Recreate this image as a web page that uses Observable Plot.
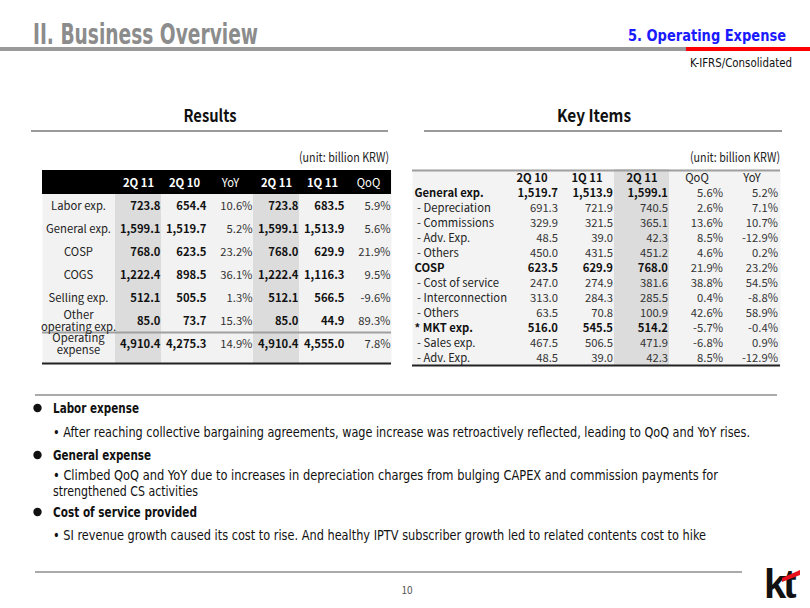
<!DOCTYPE html>
<html>
<head>
<meta charset="utf-8">
<script src="https://cdn.jsdelivr.net/npm/d3@7"></script>
<script src="https://cdn.jsdelivr.net/npm/@observablehq/plot@0.6"></script>
<style>
  html, body { margin: 0; padding: 0; background: #fff; }
  #slide { position: relative; width: 810px; height: 608px; overflow: hidden; background: #fff; }
  #slide > svg { position: absolute; left: 0; top: 0; }
</style>
</head>
<body>
<div id="slide"></div>
<script>
// ---------- data ----------
const resultsHeader = ["2Q 11", "2Q 10", "YoY", "2Q 11", "1Q 11", "QoQ"];
const resultsRows = ["Labor exp.", "General exp.", "COSP", "COGS", "Selling exp.", "Other\noperating exp.", "Operating\nexpense"];
const results2Q11 = [723.8, 1599.1, 768.0, 1222.4, 512.1, 85.0, 4910.4];
const results2Q10 = [654.4, 1519.7, 623.5, 898.5, 505.5, 73.7, 4275.3];
const resultsYoY  = [10.6, 5.2, 23.2, 36.1, 1.3, 15.3, 14.9];
const results1Q11 = [683.5, 1513.9, 629.9, 1116.3, 566.5, 44.9, 4555.0];
const resultsQoQ  = [5.9, 5.6, 21.9, 9.5, -9.6, 89.3, 7.8];

const keyHeader = ["2Q 10", "1Q 11", "2Q 11", "QoQ", "YoY"];
const keyRows = ["General exp.", "- Depreciation", "- Commissions", "- Adv. Exp.", "- Others", "COSP", "- Cost of service", "- Interconnection", "- Others", "* MKT exp.", "- Sales exp.", "- Adv. Exp."];
const key2Q10 = [1519.7, 691.3, 329.9, 48.5, 450.0, 623.5, 247.0, 313.0, 63.5, 516.0, 467.5, 48.5];
const key1Q11 = [1513.9, 721.9, 321.5, 39.0, 431.5, 629.9, 274.9, 284.3, 70.8, 545.5, 506.5, 39.0];
const key2Q11 = [1599.1, 740.5, 365.1, 42.3, 451.2, 768.0, 381.6, 285.5, 100.9, 514.2, 471.9, 42.3];
const keyQoQ  = [5.6, 2.6, 13.6, 8.5, 4.6, 21.9, 38.8, 0.4, 42.6, -5.7, -6.8, 8.5];
const keyYoY  = [5.2, 7.1, 10.7, -12.9, 0.2, 23.2, 54.5, -8.8, 58.9, -0.4, 0.9, -12.9];

// ---------- font helpers ----------
const ctx = document.createElement("canvas").getContext("2d");
function hasFont(name) {
  const s = "II. Business Overview 1,599.1 mmmwwwlliQ";
  return ["monospace", "serif"].every(fb => {
    ctx.font = `20px ${fb}`; const w0 = ctx.measureText(s).width;
    ctx.font = `20px "${name}", ${fb}`; return Math.abs(ctx.measureText(s).width - w0) > 0.01;
  });
}
const pick = list => list.find(hasFont) || "sans-serif";
const TFname = pick(["Noto Sans CJK KR", "Noto Sans CJK SC", "Open Sans", "Noto Sans", "Liberation Sans"]);
const NRname = pick(["Liberation Sans Narrow", "Arial Narrow", "DejaVu Sans Condensed", "Roboto Condensed", TFname]);
const TF = `"${TFname}", sans-serif`;
const NR = `"${NRname}", sans-serif`;
function measure(s, font, weight = "normal", size = 20) { ctx.font = `${weight} ${size}px ${font}`; return ctx.measureText(s).width; }
const sizeA = 20 * 90 / measure("- Interconnection", TF);
const sizeB = 20 * 41 / measure("1,599.1", TF, "bold");
const TS = Math.max(11, Math.min(13, sizeA, sizeB));

const fmtNum = d3.format(",.1f");
const fmtPct = v => v.toFixed(1) + "%";
const slide = document.getElementById("slide");

// ---------- static slide decoration ----------
const NS = "http://www.w3.org/2000/svg";
const deco = document.createElementNS(NS, "svg");
deco.setAttribute("width", 810); deco.setAttribute("height", 608);
function el(tag, attrs, text) {
  const e = document.createElementNS(NS, tag);
  for (const k in attrs) e.setAttribute(k, attrs[k]);
  if (text != null) e.textContent = text;
  deco.appendChild(e);
  return e;
}
// left-anchored (or centred) text; shrinks only if its natural width would pass the page edge
function txt(x, y, s, o) {
  const font = o.font || TF, weight = o.bold ? "bold" : "normal";
  let size = o.size;
  if (!o.anchor) size = Math.min(o.size, o.size * (804 - x) / measure(s, font, weight, o.size));
  const a = {x, y, "font-family": font, "font-size": size.toFixed(2), fill: o.fill || "#111", "font-weight": weight};
  if (o.anchor) a["text-anchor"] = o.anchor;
  if (o.len) { a.textLength = o.len; a.lengthAdjust = "spacingAndGlyphs"; }
  return el("text", a, s);
}
txt(33, 44, "II. Business Overview", {font: NR, size: 28, bold: true, fill: "#8c8c8c", len: 225});
el("rect", {x: 0, y: 47, width: 686, height: 4, fill: "#9a9a9a"});
el("rect", {x: 686, y: 47, width: 124, height: 4, fill: "#ff0000"});
txt(628, 41, "5. Operating Expense", {font: NR, size: 17, bold: true, fill: "#1a1aff", len: 158});
txt(690, 67, "K-IFRS/Consolidated", {font: NR, size: 13, len: 102});
txt(210, 122, "Results", {size: 17, bold: true, anchor: "middle", len: 53});
el("rect", {x: 31, y: 130, width: 357, height: 2, fill: "#9a9a9a"});
txt(594, 122, "Key Items", {size: 17, bold: true, anchor: "middle", len: 74});
el("rect", {x: 424, y: 130, width: 358, height: 2, fill: "#9a9a9a"});
txt(299, 162, "(unit: billion KRW)", {size: 13, fill: "#222", len: 90});
txt(690, 162, "(unit: billion KRW)", {size: 13, fill: "#222", len: 90});
el("rect", {x: 35, y: 394, width: 742, height: 2, fill: "#aaaaaa"});
const bullets = [
  ["h", 413, "Labor expense", 86],
  ["t", 437, "• After reaching collective bargaining agreements, wage increase was retroactively reflected, leading to QoQ and YoY rises.", 697],
  ["h", 460, "General expense", 98],
  ["t", 480, "• Climbed QoQ and YoY due to increases in depreciation charges from bulging CAPEX and commission payments for", 665],
  ["t", 496, "strengthened CS activities", 145],
  ["h", 517, "Cost of service provided", 144],
  ["t", 540, "• SI revenue growth caused its cost to rise. And healthy IPTV subscriber growth led to related contents cost to hike", 653]
];
for (const [k, y, s, len] of bullets) {
  if (k === "h") el("circle", {cx: 37.5, cy: y - 5, r: 4.2, fill: "#111"});
  txt(53, y, s, {font: NR, size: 14.5, bold: k === "h", len});
}
el("rect", {x: 35, y: 571, width: 707, height: 2, fill: "#aaaaaa"});
txt(407, 594, "10", {size: 10, anchor: "middle", fill: "#555"});
el("text", {x: 764, y: 598, "font-family": "'Liberation Sans', sans-serif", "font-size": 40, "font-weight": "bold", fill: "#111", "letter-spacing": -3}, "kt");
el("path", {d: "M782,578 L800,570 L800,575 L782,582 Z", fill: "#e8101c"});
slide.appendChild(deco);

// ---------- Results table ----------
const lRows = d3.range(resultsRows.length);
const lCols = [results2Q11, results2Q10, resultsYoY, results2Q11, results1Q11, resultsQoQ];
const lCells = [];
lCols.forEach((arr, c) => arr.forEach((v, r) => lCells.push({r, c, t: (c === 2 || c === 5) ? fmtPct(v) : fmtNum(v), bold: !(c === 2 || c === 5)})));
const lBw = (356 - 170.86) / 8;
const left = Plot.plot({
  width: 810, height: 380,
  marginLeft: 42, marginRight: 810 - 391, marginTop: 170, marginBottom: 380 - 364,
  style: {background: "transparent", fontFamily: TF, fontSize: TS + "px", color: "#111"},
  x: {type: "band", domain: d3.range(6), range: [115, 391], padding: 0, axis: null},
  y: {type: "band", domain: [-1, ...lRows], range: [170.86, 356], padding: 0, axis: null},
  marks: [
    Plot.frame({fill: "#f2f2f2", stroke: "none"}),
    Plot.cell([0, 3], {x: d => d, fill: "#dcdcdc"}),
    Plot.cell([-1], {y: d => d, fill: "#000", insetTop: -1}),
    Plot.ruleY([6], {y: d => d, dy: -lBw / 2, stroke: "#a0a0a0", strokeWidth: 2}),
    Plot.ruleY([6], {y: d => d, dy: lBw / 2 + 8, stroke: "#222", strokeWidth: 2}),
    Plot.text(resultsHeader.map((h, i) => ({h, i})).filter(d => d.i !== 2 && d.i !== 5), {x: "i", y: () => -1, text: "h", fill: "#fff", fontWeight: "bold", fontSize: TS}),
    Plot.text(resultsHeader.map((h, i) => ({h, i})).filter(d => d.i === 2 || d.i === 5), {x: "i", y: () => -1, text: "h", fill: "#fff", fontSize: TS}),
    Plot.text(resultsRows, {y: (d, i) => i, text: d => d, frameAnchor: "left", textAnchor: "middle", dx: 36, lineHeight: 1.05, fill: "#222", fontSize: TS}),
    Plot.text(lCells.filter(d => d.bold), {x: "c", y: "r", text: "t", textAnchor: "end", dx: 22, fontWeight: "bold", fill: "#111", fontSize: TS}),
    Plot.text(lCells.filter(d => !d.bold), {x: "c", y: "r", text: "t", textAnchor: "end", dx: 22, fill: "#333", fontSize: TS})
  ]
});
slide.appendChild(left);

// ---------- Key Items table ----------
const rRows = d3.range(keyRows.length);
const rCols = [key2Q10, key1Q11, key2Q11, keyQoQ, keyYoY];
const isBoldRow = r => !keyRows[r].startsWith("-");
const rCells = [];
rCols.forEach((arr, c) => arr.forEach((v, r) => rCells.push({r, c, t: c >= 3 ? fmtPct(v) : fmtNum(v), bold: c < 3 && isBoldRow(r)})));
const rBw = (365 - 169.5) / 13;
const right = Plot.plot({
  width: 810, height: 380,
  marginLeft: 412, marginRight: 810 - 780, marginTop: 169, marginBottom: 380 - 365,
  style: {background: "transparent", fontFamily: TF, fontSize: TS + "px", color: "#111"},
  x: {type: "band", domain: d3.range(5), range: [502, 780], padding: 0, axis: null},
  y: {type: "band", domain: [-1, ...rRows], range: [169.5, 365], padding: 0, axis: null},
  marks: [
    Plot.frame({fill: "#f3f3f3", stroke: "none"}),
    Plot.cell([2], {x: d => d, fill: "#dcdcdc"}),
    Plot.ruleY([-1], {y: d => d, dy: -rBw / 2, stroke: "#a0a0a0", strokeWidth: 2}),
    Plot.ruleY([11], {y: d => d, dy: rBw / 2, stroke: "#222", strokeWidth: 2}),
    Plot.text(keyHeader.map((h, i) => ({h, i})).filter(d => d.i < 3), {x: "i", y: () => -1, text: "h", fontWeight: "bold", fill: "#111", fontSize: TS}),
    Plot.text(keyHeader.map((h, i) => ({h, i})).filter(d => d.i >= 3), {x: "i", y: () => -1, text: "h", fill: "#222", fontSize: TS}),
    Plot.text(rRows.filter(isBoldRow), {y: d => d, text: d => keyRows[d], frameAnchor: "left", textAnchor: "start", dx: 2, fontWeight: "bold", fill: "#111", fontSize: TS}),
    Plot.text(rRows.filter(r => !isBoldRow(r)), {y: d => d, text: d => "\u00a0" + keyRows[d], frameAnchor: "left", textAnchor: "start", dx: 2, fill: "#222", fontSize: TS}),
    Plot.text(rCells.filter(d => d.bold), {x: "c", y: "r", text: "t", textAnchor: "end", dx: 26, fontWeight: "bold", fill: "#111", fontSize: TS}),
    Plot.text(rCells.filter(d => !d.bold), {x: "c", y: "r", text: "t", textAnchor: "end", dx: 26, fill: "#333", fontSize: TS})
  ]
});
slide.appendChild(right);
</script>
</body>
</html>
